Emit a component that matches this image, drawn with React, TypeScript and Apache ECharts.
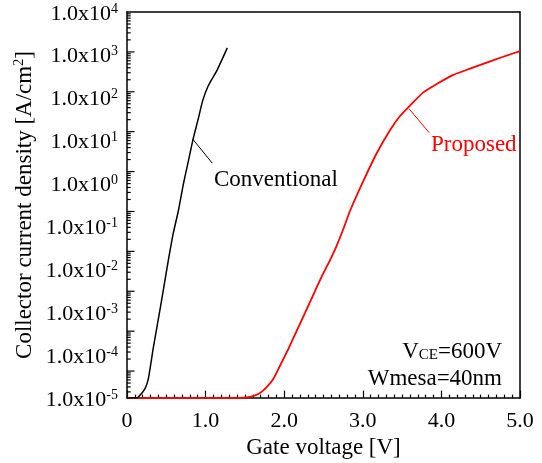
import React, { useEffect, useRef } from "react";
import * as echarts from "echarts";

// Gate voltage [V] and collector current density [A/cm^2]
const X_CONV = [0, 0.12, 0.165, 0.229, 0.271, 0.335, 0.398, 0.462, 0.525, 0.589, 0.653, 0.716, 0.78, 0.843, 0.907, 0.963, 1.034, 1.141, 1.276];
const Y_CONV = [1e-5, 1e-5, 1.17e-5, 1.66e-5, 2.8e-5, 1.5e-4, 6.8e-4, 3.3e-3, 1.6e-2, 7.0e-2, 0.23, 0.95, 3.3, 11.3, 32.6, 86, 191, 423, 1460];

const X_PROP = [0, 1.31, 1.565, 1.692, 1.777, 1.861, 1.947, 2.052, 2.159, 2.265, 2.37, 2.477, 2.583, 2.668, 2.761, 2.837, 3.006, 3.177, 3.346, 3.473, 3.601, 3.77, 3.94, 4.151, 4.364, 4.576, 4.787, 5.0];
const Y_PROP = [1e-5, 1e-5, 1.07e-5, 1.32e-5, 1.8e-5, 2.8e-5, 5.7e-5, 1.39e-4, 3.7e-4, 9.7e-4, 2.56e-3, 6.8e-3, 1.64e-2, 3.6e-2, 9.6e-2, 0.23, 1.14, 5.1, 17.5, 37.6, 66, 134, 209, 342, 480, 659, 906, 1230];

const X_TICKS = [0, 1, 2, 3, 4, 5];
const Y_EXPONENTS = [-5, -4, -3, -2, -1, 0, 1, 2, 3, 4];

// leader lines: [x, y] start on curve -> end near label
const CONV_LEADER = [[0.836, 10.9], [1.085, 3.0]];
const PROP_LEADER = [[3.588, 55.5], [3.846, 15.3]];

const FONT = "'Liberation Serif', 'Times New Roman', serif";

export default function App() {
  const ref = useRef<HTMLDivElement>(null);
  useEffect(() => {
    if (!ref.current) return;
    const chart = echarts.init(ref.current, null, { renderer: "svg" });
    const lg = (v: number) => Math.log10(v);
    const conv = X_CONV.map((x, i) => [x, lg(Y_CONV[i])]);
    const prop = X_PROP.map((x, i) => [x, lg(Y_PROP[i])]);

    // the original plot's own tick scale (decades of ~40 px), on a hidden axis
    const tickMin = -5.678;
    const tickMax = 4;
    const majors: number[][] = [];
    const minors: number[][] = [];
    for (let n = -6; n <= 4; n++) {
      if (n >= tickMin && n < tickMax) majors.push([0, n]);
      for (let k = 2; k <= 9; k++) {
        const e = n + Math.log10(k);
        if (e > tickMin && e < tickMax) minors.push([0, e]);
      }
    }
    const tickSeries = (data: number[][], len: number) => ({
      type: "custom", xAxisIndex: 0, yAxisIndex: 1, clip: false, z: 5,
      data,
      renderItem: (_p: any, api: any) => {
        const pt = api.coord([api.value(0), api.value(1)]);
        return {
          type: "line",
          shape: { x1: pt[0], y1: pt[1], x2: pt[0] + len, y2: pt[1] },
          style: { stroke: "#000", lineWidth: 1.2 },
        };
      },
    });

    const supStyle = { fontFamily: FONT, fontSize: 14, lineHeight: 14, verticalAlign: "top", color: "#000" };
    const frame = () => ({ show: true, onZero: false, lineStyle: { color: "#000", width: 1.5 } });

    chart.setOption({
      animation: false,
      grid: { left: 127, top: 12, right: 22, bottom: 60 },
      xAxis: [
        {
          type: "value", min: X_TICKS[0], max: X_TICKS[X_TICKS.length - 1], interval: 1,
          name: "Gate voltage [V]", nameLocation: "middle", nameGap: 33,
          nameTextStyle: { fontFamily: FONT, fontSize: 23, color: "#000", lineHeight: 23 },
          axisLine: frame(),
          axisTick: { show: true, inside: true, length: 7.5, lineStyle: { color: "#000", width: 1.2 } },
          minorTick: { show: true, splitNumber: 10, length: 3.5, lineStyle: { color: "#000", width: 1.2 } },
          splitLine: { show: false },
          minorSplitLine: { show: false },
          axisLabel: {
            fontFamily: FONT, fontSize: 22, color: "#000", margin: 10,
            formatter: (v: number) => (v === 0 ? "0" : v.toFixed(1)),
          },
        },
        {
          type: "value", min: 0, max: 5, position: "top",
          axisLine: frame(), axisTick: { show: false }, axisLabel: { show: false }, splitLine: { show: false },
        },
      ],
      yAxis: [
        {
          type: "value", min: Y_EXPONENTS[0], max: Y_EXPONENTS[Y_EXPONENTS.length - 1], interval: 1,
          position: "left",
          name: "Collector current density [A/cm{sup|2}]", nameLocation: "middle", nameGap: 92,
          nameRotate: 90,
          nameTextStyle: {
            fontFamily: FONT, fontSize: 23, color: "#000", lineHeight: 23,
            rich: { sup: supStyle },
          },
          axisLine: frame(),
          axisTick: { show: false },
          splitLine: { show: false },
          axisLabel: {
            margin: 9,
            formatter: (v: number) => "{b|1.0x10}{sup|" + String(v) + "}",
            rich: {
              b: { fontFamily: FONT, fontSize: 22, lineHeight: 22, color: "#000" },
              sup: supStyle,
            },
          },
        },
        {
          type: "value", min: tickMin, max: tickMax, position: "left", show: false,
        },
        {
          type: "value", min: 0, max: 1, position: "right",
          axisLine: frame(), axisTick: { show: false }, axisLabel: { show: false }, splitLine: { show: false },
        },
      ],
      series: [
        {
          type: "line", name: "Proposed", data: prop, showSymbol: false, smooth: 0.2,
          lineStyle: { color: "#ff0000", width: 1.8 }, itemStyle: { color: "#ff0000" },
          markLine: {
            silent: true, symbol: "none", label: { show: false },
            lineStyle: { color: "#ff0000", width: 1, type: "solid" },
            data: [[
              { coord: [PROP_LEADER[0][0], lg(PROP_LEADER[0][1])] },
              { coord: [PROP_LEADER[1][0], lg(PROP_LEADER[1][1])] },
            ]],
          },
        },
        {
          type: "line", name: "Conventional", data: conv, showSymbol: false, smooth: 0.2,
          lineStyle: { color: "#000", width: 1.5 }, itemStyle: { color: "#000" },
          markLine: {
            silent: true, symbol: "none", label: { show: false },
            lineStyle: { color: "#000", width: 1, type: "solid" },
            data: [[
              { coord: [CONV_LEADER[0][0], lg(CONV_LEADER[0][1])] },
              { coord: [CONV_LEADER[1][0], lg(CONV_LEADER[1][1])] },
            ]],
          },
        },
        tickSeries(majors, 7.5),
        tickSeries(minors, 3.7),
      ],
      graphic: [
        {
          type: "text", x: 214, y: 178,
          style: { text: "Conventional", fontFamily: FONT, fontSize: 23, fill: "#000", verticalAlign: "middle", align: "left" },
        },
        {
          type: "text", x: 431, y: 143,
          style: { text: "Proposed", fontFamily: FONT, fontSize: 23, fill: "#ff0000", verticalAlign: "middle", align: "left" },
        },
        {
          type: "text", x: 502, y: 350,
          style: {
            text: "{m|V}{s|CE}{m|=600V}", align: "right", verticalAlign: "middle",
            rich: {
              m: { fontFamily: FONT, fontSize: 23, lineHeight: 23, fill: "#000" },
              s: { fontFamily: FONT, fontSize: 15, lineHeight: 15, verticalAlign: "bottom", fill: "#000" },
            },
          },
        },
        {
          type: "text", x: 502, y: 377,
          style: { text: "Wmesa=40nm", fontFamily: FONT, fontSize: 23, fill: "#000", verticalAlign: "middle", align: "right" },
        },
      ],
    });
    return () => chart.dispose();
  }, []);
  return <div ref={ref} style={{ position: "fixed", left: 0, top: 0, width: 542, height: 463 }} />;
}
